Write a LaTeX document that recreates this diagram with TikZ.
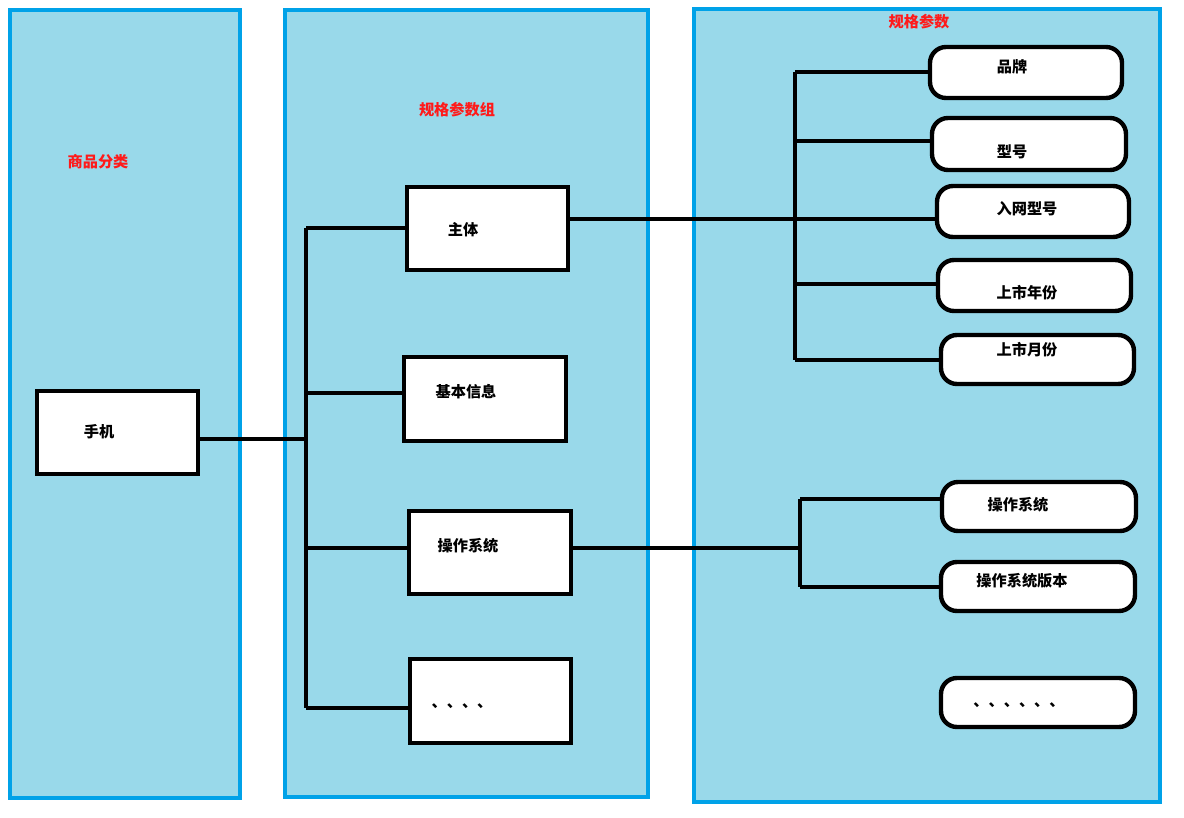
\documentclass[tikz,border=0pt]{standalone}
\usepackage{fontspec}
\setmainfont{Noto Sans CJK SC}
\usetikzlibrary{fit}
\definecolor{panelfill}{HTML}{99D9EA}
\definecolor{paneledge}{HTML}{00A2E8}
\definecolor{titlered}{HTML}{FF1A1A}
\tikzset{
  panel/.style = {draw = paneledge, fill = panelfill, line width = 2pt},
  sqbox/.style = {draw = black, fill = white, line width = 2.2pt, inner sep = 0pt},
  rdbox/.style = {sqbox, rounded corners = 8pt},
  bus/.style = {draw = black, line width = 1.7pt},
  txt/.style = {font = \bfseries\fontsize{7.6}{9}\selectfont, inner sep = 0pt},
  title/.style = {txt, text = titlered},
}
\begin{document}
\begin{tikzpicture}[x = 0.5pt, y = -0.5pt]
\useasboundingbox (0,0) rectangle (1184,818);
% panels
\path[panel] (10,10) rectangle (240,798);
\path[panel] (285,10) rectangle (648,797);
\path[panel] (694,9) rectangle (1160,802);
\node[title] (catTitle) at (98,162) {商品分类};
\node[title] (groupTitle) at (457,110) {规格参数组};
\node[title] (paramTitle) at (919,22) {规格参数};
% category
\node[sqbox, fit = {(37,391) (198,474)}] (phone) {};
\node[txt] (phoneText) at (99,432) {手机};
% groups
\node[sqbox, fit = {(407,187) (568,270)}] (zhuti) {};
\node[txt] (zhutiText) at (463,230) {主体};
\node[sqbox, fit = {(404,357) (566,441)}] (jiben) {};
\node[txt] (jibenText) at (466,392) {基本信息};
\node[sqbox, fit = {(409,511) (571,594)}] (caozuo) {};
\node[txt] (caozuoText) at (468,546) {操作系统};
\node[sqbox, fit = {(410,659) (571,743)}] (more) {};
\node[txt] (moreText) at (462,706) {、、、、};
% params
\node[rdbox, fit = {(930,47) (1122,98)}] (pinpai) {};
\node[txt] (pinpaiText) at (1012,67) {品牌};
\node[rdbox, fit = {(932,118) (1126,170)}] (xinghao) {};
\node[txt] (xinghaoText) at (1012,152) {型号};
\node[rdbox, fit = {(937,186) (1129,237)}] (ruwang) {};
\node[txt] (ruwangText) at (1027,209) {入网型号};
\node[rdbox, fit = {(938,260) (1131,311)}] (nianfen) {};
\node[txt] (nianfenText) at (1027,293) {上市年份};
\node[rdbox, fit = {(941,335) (1134,384)}] (yuefen) {};
\node[txt] (yuefenText) at (1027,350) {上市月份};
\node[rdbox, fit = {(942,482) (1136,531)}] (xitong) {};
\node[txt] (xitongText) at (1018,505) {操作系统};
\node[rdbox, fit = {(941,562) (1135,611)}] (banben) {};
\node[txt] (banbenText) at (1022,581) {操作系统版本};
\node[rdbox, fit = {(941,678) (1135,727)}] (etc) {};
\node[txt] (etcText) at (1019,705) {、、、、、、};
% bus lines
\coordinate (groupBus) at (306,439);
\coordinate (groupA) at (306,228);
\coordinate (groupB) at (306,393);
\coordinate (groupC) at (306,548);
\coordinate (groupD) at (306,708);
\draw[bus] (phone.east |- groupBus) -- (groupBus);
\draw[bus] (groupA) -- (groupD);
\draw[bus] (groupA) -- (zhuti.west |- groupA);
\draw[bus] (groupB) -- (jiben.west |- groupB);
\draw[bus] (groupC) -- (caozuo.west |- groupC);
\draw[bus] (groupD) -- (more.west |- groupD);
\coordinate (bodyBus) at (795,219);
\coordinate (bodyA) at (795,72);
\coordinate (bodyB) at (795,141);
\coordinate (bodyD) at (795,284);
\coordinate (bodyE) at (795,360);
\draw[bus] (zhuti.east |- bodyBus) -- (bodyBus);
\draw[bus] (bodyA) -- (bodyE);
\draw[bus] (bodyA) -- (pinpai.west |- bodyA);
\draw[bus] (bodyB) -- (xinghao.west |- bodyB);
\draw[bus] (bodyBus) -- (ruwang.west |- bodyBus);
\draw[bus] (bodyD) -- (nianfen.west |- bodyD);
\draw[bus] (bodyE) -- (yuefen.west |- bodyE);
\coordinate (osBus) at (800,548);
\coordinate (osA) at (800,499);
\coordinate (osB) at (800,587);
\draw[bus] (caozuo.east |- osBus) -- (osBus);
\draw[bus] (osA) -- (osB);
\draw[bus] (osA) -- (xitong.west |- osA);
\draw[bus] (osB) -- (banben.west |- osB);
\end{tikzpicture}
\end{document}
